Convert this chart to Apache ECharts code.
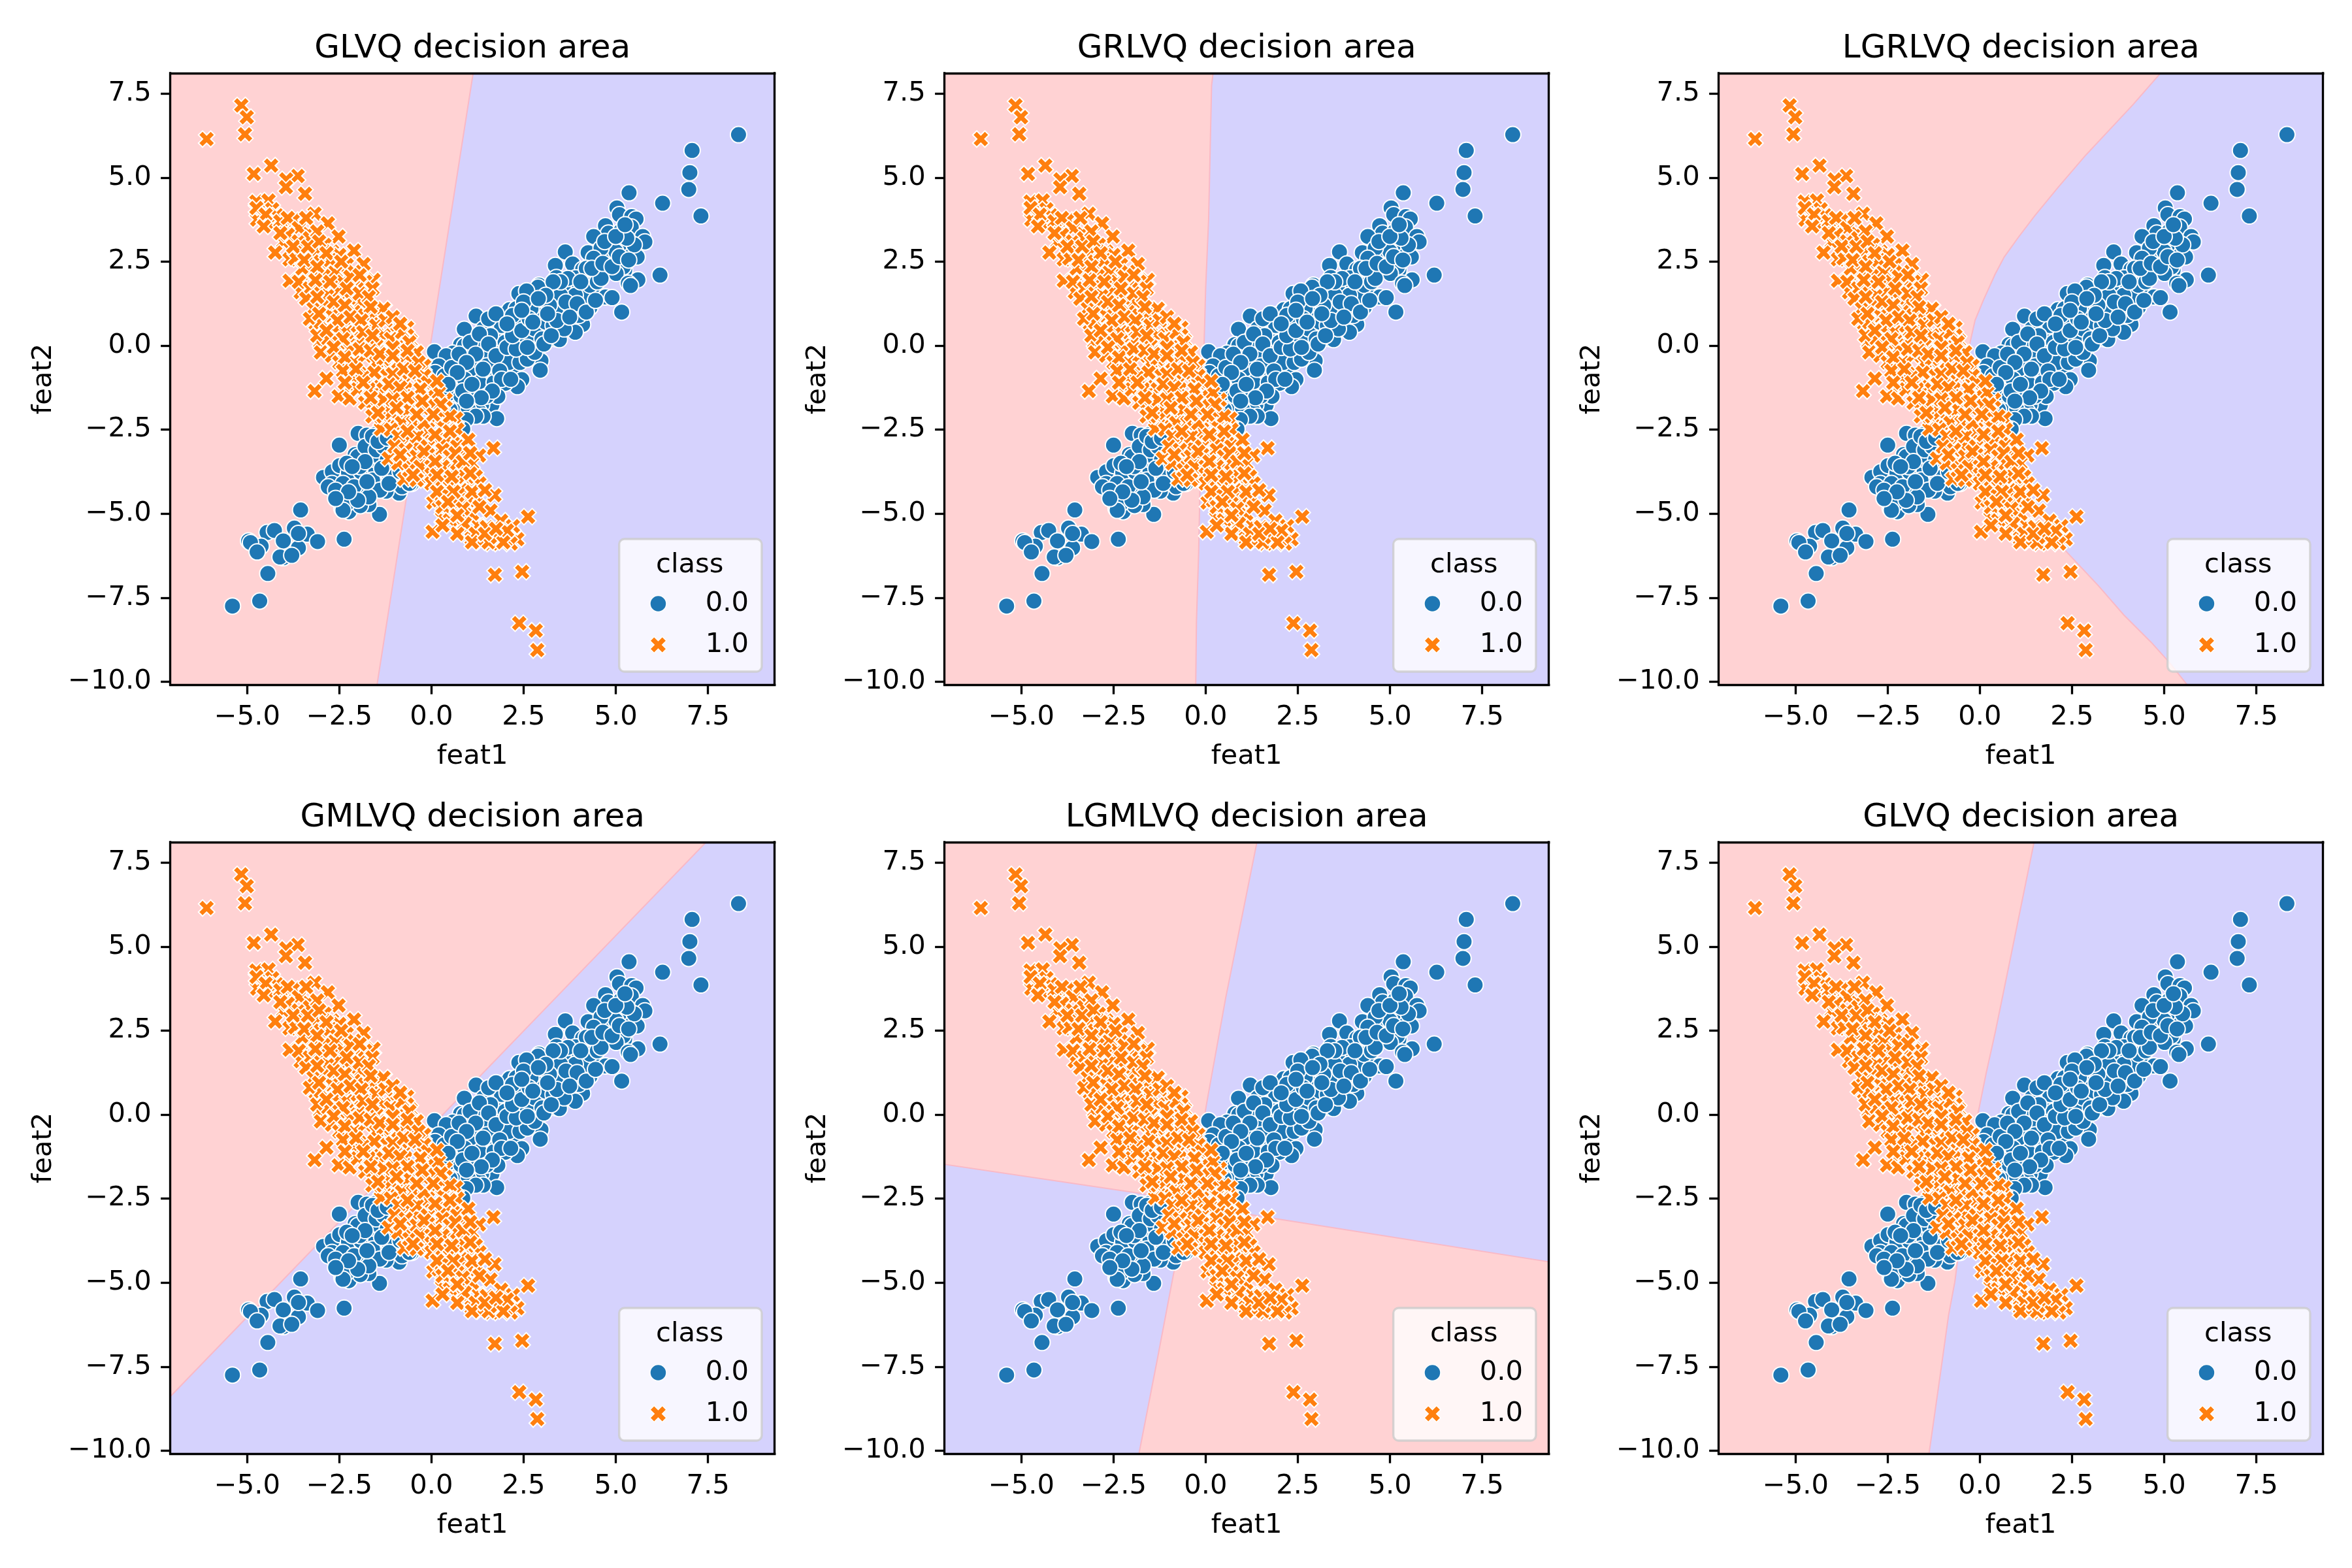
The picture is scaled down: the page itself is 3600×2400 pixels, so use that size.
<!DOCTYPE html>
<html>
<head>
<meta charset="utf-8">
<style>html,body{margin:0;padding:0;background:#fff}#c{width:3600px;height:2400px}</style>
<script src="https://cdn.jsdelivr.net/npm/echarts@6/dist/echarts.min.js"></script>
</head>
<body>
<div id="c"></div>
<script>
const panelTitles = ['GLVQ decision area','GRLVQ decision area','LGRLVQ decision area','GMLVQ decision area','LGMLVQ decision area','GLVQ decision area'];
const xTicks = [-5,-2.5,0,2.5,5,7.5];
const yTicks = [-10,-7.5,-5,-2.5,0,2.5,5,7.5];
const xMin = -7.085, xMax = 9.31, yMin = -10.09, yMax = 8.11;
const classNames = ['0.0','1.0'];

const class0 = [
[8.33,6.28],[7.07,5.81],[7.01,5.15],[6.98,4.65],[7.31,3.86],[6.27,4.24],[5.36,4.55],[5.03,4.10],[5.10,3.90],[5.43,3.84],[5.55,3.77],[4.72,3.57],[4.80,3.35],[5.42,3.53],[4.40,3.25],[5.14,3.41],[5.73,3.25],[5.79,3.09],[4.92,3.09],[5.40,3.06],[5.24,2.85],[5.58,2.64],[4.81,2.67],[4.50,2.59],[4.25,2.77],[3.63,2.79],[3.83,2.43],[3.36,2.39],[4.78,2.34],[4.63,2.15],[4.28,2.05],[4.10,2.27],[3.91,2.02],[5.24,2.24],[5.20,2.34],[3.39,2.03],[5.01,2.15],[5.60,1.96],[5.34,1.86],[5.40,1.79],[6.20,2.10],[2.92,1.80],[2.89,1.74],[2.37,1.55],[2.67,1.43],[2.58,1.63],[3.26,1.46],[3.72,1.67],[4.01,1.70],[4.48,1.54],[4.72,1.45],[4.90,1.43],[5.16,1.00],[3.72,1.26],[4.10,1.14],[4.30,1.14],[3.42,1.28],[2.95,1.08],[2.71,0.89],[3.24,0.95],[1.99,0.82],[1.92,0.92],[2.12,1.07],[2.30,1.10],[1.21,0.88],[0.89,0.49],[1.68,0.60],[1.41,0.50],[3.65,0.66],[3.85,0.69],[4.10,0.63],[3.90,0.40],[3.36,0.21],[3.47,0.18],[3.10,0.38],[1.98,0.44],[1.80,0.40],[2.57,0.43],[2.33,0.30],[2.70,0.63],[1.24,0.22],[0.79,0.03],[1.54,0.18],[2.21,0.11],[1.83,0.11],[3.18,0.50],[2.95,0.37],[2.77,-0.05],[2.51,-0.13],[0.08,-0.18],[2.97,-0.45],[2.95,-0.73],[2.35,-0.31],[1.95,-0.31],[1.12,-0.46],[0.58,-0.22],[1.59,-0.41],[1.71,-0.60],[2.18,-0.78],[0.38,-0.71],[0.83,-0.66],[2.45,-1.01],[1.56,-0.94],[1.29,-0.93],[0.93,-1.26],[1.54,-1.36],[2.33,-1.22],[2.00,-1.12],[1.77,-1.54],[1.20,-1.38],[0.65,-1.11],[0.30,-1.18],[0.76,-1.77],[1.64,-1.77],[1.36,-1.77],[1.77,-2.17],[1.29,-1.96],[1.80,-1.51],
[1.00,-0.20],[1.30,-0.10],[0.50,-0.40],[0.70,-0.50],[0.90,0.00],[1.00,-0.80],[1.40,-0.30],[1.80,-0.10],[2.00,0.10],[2.20,0.50],[2.40,0.70],[2.60,0.20],[2.80,0.50],[2.90,0.90],[3.00,0.20],[3.10,0.70],[3.30,0.60],[3.50,1.00],[3.60,0.50],[3.80,1.10],[4.00,0.90],[4.20,1.50],[4.30,1.80],[4.50,1.90],[4.60,2.00],[3.90,1.50],[3.50,1.50],[3.20,1.20],[2.70,1.10],[2.50,1.30],[2.20,0.90],[1.90,0.60],[1.60,0.30],[1.50,-0.60],[1.30,-1.10],[1.70,-1.10],[2.10,-0.50],[2.40,-0.50],[2.60,-0.40],[2.80,-0.20],[0.40,-0.30],[0.20,-0.60],[0.60,-0.90],[0.90,-1.00],[1.10,-1.50],[0.50,-1.40],[0.80,-1.50],[1.50,-1.50],[1.00,-1.90],[1.40,-2.10],[1.20,-2.10],[0.50,-1.90],[0.30,-1.50],[0.20,-1.00],[0.10,-0.80],[4.90,2.60],[5.10,3.00],[5.00,2.80],[5.50,3.00],[5.30,3.20],[4.60,2.90],[4.40,2.60],[4.20,2.30],[3.70,2.00],[3.50,1.90],[3.30,1.90],[3.10,1.50],[2.90,1.40],
[0.35,-0.90],[0.55,-0.65],[0.75,-0.25],[1.05,0.10],[1.30,0.35],[1.55,0.05],[1.20,-0.25],[0.95,-0.50],[0.70,-0.80],[0.45,-1.15],[0.85,-1.35],[1.10,-1.15],[1.40,-0.70],[1.75,-0.30],[2.05,-0.05],[2.30,-0.10],[2.60,-0.05],[2.20,0.30],[2.45,0.45],[2.65,0.80],[3.05,0.05],[3.25,0.30],[3.40,0.75],[3.15,0.95],[2.45,1.05],[2.75,0.70],[1.85,-0.75],[1.90,-1.00],[2.15,-1.00],[1.65,-1.35],[1.35,-1.55],[0.95,-1.65],[1.55,0.80],[1.75,0.95],[2.05,0.65],[3.65,1.30],[3.95,1.25],[4.20,1.00],[4.45,1.35],[3.75,0.85],[4.05,1.90],[4.35,2.30],[4.65,2.45],[4.90,2.35],[5.10,2.65],[5.35,2.55],[4.70,3.10],[5.00,3.25],[5.25,3.60],
[0.20,-2.00],[0.50,-2.30],[0.70,-2.70],[0.94,-2.20],[0.85,-2.48],[0.83,-2.87],[0.40,-2.80],
[-5.40,-7.75],[-4.66,-7.60],[-4.44,-6.78],[-3.55,-4.89],[-4.96,-5.81],[-4.46,-5.56],[-4.26,-5.50],[-3.72,-5.43],[-3.37,-5.61],[-3.09,-5.83],[-4.02,-5.81],[-3.61,-6.02],[-4.62,-5.97],[-4.91,-5.86],[-4.73,-6.14],[-4.02,-6.31],[-4.11,-6.29],[-3.79,-6.24],[-3.61,-5.59],[-2.37,-5.76],[-1.41,-5.02],[-2.24,-4.94],[-1.70,-4.73],[-2.43,-4.85],[-2.49,-4.59],[-1.93,-4.76],[-2.32,-4.47],[-1.93,-4.27],[-0.88,-4.39],[-1.23,-4.33],[-2.55,-4.03],[-2.93,-3.92],[-2.69,-3.75],[-2.49,-3.57],[-2.25,-3.78],[-1.91,-3.76],[-1.51,-3.76],[-1.54,-3.38],[-2.07,-3.24],[-2.50,-2.96],[-1.99,-2.61],[-1.75,-2.66],[-1.52,-2.64],[-1.66,-3.10],[-1.13,-3.88],[-1.07,-3.72],[-1.50,-4.13],[-0.54,-4.10],[-0.73,-3.97],[-1.80,-4.43],[-1.94,-3.60],[-1.38,-3.35],[-0.94,-3.60],
[-2.00,-3.30],[-1.80,-3.00],[-1.50,-3.10],[-2.30,-3.50],[-2.70,-4.10],[-2.40,-4.10],[-2.10,-4.20],[-1.60,-4.00],[-1.40,-4.30],[-1.70,-4.50],[-2.30,-4.70],[-2.00,-4.60],[-1.20,-3.40],[-1.00,-3.90],[-0.80,-4.20],[-0.60,-4.10],[-1.30,-3.00],[-1.00,-3.20],[-0.90,-2.90],[-1.60,-2.70],[-2.80,-4.20],[-2.60,-4.30],[-2.40,-4.90],
[-1.80,-3.45],[-2.15,-3.60],[-1.35,-3.65],[-1.75,-4.05],[-2.25,-4.35],[-1.15,-4.10],[-0.85,-3.75],[-1.45,-2.85],[-1.20,-2.75],[-2.60,-4.55]
];

const class1 = [
[-6.10,6.15],[-5.16,7.15],[-5.01,6.80],[-5.06,6.29],[-4.82,5.11],[-4.35,5.36],[-3.63,5.05],[-3.94,4.95],[-3.95,4.72],[-3.43,4.52],[-4.75,4.29],[-4.42,4.32],[-4.32,4.06],[-4.73,3.75],[-4.75,4.10],[-4.29,3.62],[-4.20,3.88],[-3.74,3.74],[-4.00,3.55],[-3.17,3.93],[-2.81,3.64],[-2.52,3.25],[-3.34,3.35],[-4.02,3.09],[-4.24,2.77],[-3.85,2.57],[-2.10,2.83],[-1.84,2.43],[-2.40,2.41],[-2.99,2.41],[-3.32,2.12],[-3.85,1.93],[-1.57,1.96],[-2.58,1.93],[-3.55,1.59],[-1.96,1.63],[-2.75,1.54],[-1.28,1.08],[-2.55,1.28],[-2.96,1.08],[-1.40,0.90],[-2.25,0.73],[-0.66,0.53],[-1.04,0.53],[-1.75,0.53],[-3.14,0.66],[-2.75,0.53],[-3.02,0.11],[-2.07,0.08],[-1.69,0.02],[-2.40,-0.18],[-0.93,-0.05],[-0.57,0.15],
[-0.51,-0.51],[-1.96,-0.83],[-1.10,-0.70],[-0.30,-0.89],[-2.19,-1.22],[-3.17,-1.35],[-2.85,-0.98],[-2.52,-1.51],[-2.22,-1.57],[-1.51,-1.38],[-0.74,-1.09],[0.02,-1.32],[0.38,-1.61],[-1.16,-1.73],[-0.39,-1.71],[-0.92,-2.16],[-0.42,-2.29],[0.11,-2.26],[0.67,-2.17],[-1.37,-2.48],[-0.21,-2.61],[-0.63,-2.74],[0.62,-2.70],[1.68,-3.05],[1.29,-3.27],[0.85,-3.18],[-0.39,-3.00],[0.08,-3.23],[-1.16,-3.36],[-0.63,-3.45],[-0.31,-3.45],[0.56,-3.68],[0.97,-3.65],[-0.74,-3.97],[-0.13,-3.94],[0.70,-4.00],[1.09,-4.13],[0.32,-4.33],[1.71,-4.45],[1.27,-4.52],[0.59,-4.52],[0.05,-4.67],[1.60,-4.91],[0.62,-4.94],[0.94,-5.07],[2.62,-5.09],[0.29,-5.13],[1.89,-5.21],[2.21,-5.37],[1.27,-5.35],[0.85,-5.40],[1.91,-5.62],[0.03,-5.54],[1.09,-5.74],[2.33,-5.76],[1.62,-5.89],[1.35,-5.85],[2.15,-5.89],[1.72,-6.82],[2.46,-6.73],[2.38,-8.26],[2.83,-8.48],[2.87,-9.06],
[-4.50,3.90],[-4.10,3.70],[-3.90,3.80],[-3.60,3.50],[-3.40,3.80],[-3.90,3.30],[-3.60,3.10],[-3.30,3.20],[-3.10,3.40],[-2.90,3.00],[-3.50,2.80],[-3.70,2.60],[-3.20,2.70],[-3.00,2.50],[-2.70,2.80],[-2.50,2.70],[-2.30,2.40],[-2.10,2.20],[-3.50,2.30],[-3.20,2.20],[-2.90,2.10],[-2.60,2.20],[-2.40,1.90],[-2.10,1.80],[-1.80,1.90],[-1.60,1.70],[-3.60,1.90],[-3.30,1.70],[-3.00,1.80],[-2.80,1.50],[-2.50,1.60],[-2.20,1.40],[-1.90,1.30],[-3.40,1.40],[-3.20,1.10],[-2.90,1.20],[-2.70,0.90],[-2.40,1.00],[-2.10,1.00],[-1.80,0.90],[-1.50,1.00],[-1.30,1.10],[-3.30,0.80],[-3.00,0.70],[-2.60,0.50],[-2.30,0.40],[-2.00,0.60],[-1.50,0.60],[-1.30,0.30],[-1.10,0.20],[-0.80,0.40],[-3.10,0.30],[-2.80,0.20],[-2.50,0.10],[-2.20,-0.10],[-1.90,0.20],[-1.50,0.00],[-1.20,-0.20],[-0.80,-0.10],[-0.60,0.10],[-0.40,-0.20],[-3.00,-0.20],[-2.70,-0.30],[-2.50,-0.50],[-2.10,-0.50],[-1.80,-0.30],[-1.50,-0.50],[-1.30,-0.40],[-0.90,-0.50],[-0.70,-0.30],[-0.20,-0.60],[-2.20,-0.90],[-1.80,-0.90],[-1.40,-1.00],[-1.20,-0.90],[-0.90,-1.00],[-0.60,-0.80],[-0.20,-0.90],[-0.10,-1.10],[-2.00,-1.30],[-1.70,-1.30],[-1.30,-1.30],[-1.00,-1.40],[-0.70,-1.30],[-0.50,-1.50],[-0.10,-1.50],[0.20,-1.40],[-1.80,-1.70],[-1.50,-1.80],[-1.30,-1.60],[-0.80,-1.70],[-0.60,-1.90],[-0.20,-1.90],[0.10,-1.80],[0.30,-2.00],[-1.60,-2.10],[-1.30,-2.10],[-1.10,-2.00],[-0.80,-2.30],[-0.50,-2.30],[-0.10,-2.50],[0.30,-2.40],[0.50,-2.10],[-1.10,-2.50],[-0.90,-2.70],[-0.40,-2.70],[-0.20,-2.30],[0.20,-2.80],[0.40,-2.80],[0.70,-2.50],[-1.00,-3.00],[-0.70,-3.10],[-0.40,-3.30],[-0.10,-3.00],[0.30,-3.10],[0.50,-3.30],[0.70,-3.00],[1.00,-2.80],[-0.90,-3.50],[-0.60,-3.70],[-0.30,-3.60],[0.00,-3.60],[0.30,-3.60],[0.70,-3.50],[1.10,-3.50],[-0.40,-4.00],[0.00,-4.10],[0.30,-4.00],[0.50,-4.20],[0.90,-3.90],[1.20,-3.90],[0.20,-4.60],[0.40,-4.40],[0.80,-4.30],[1.00,-4.60],[1.30,-4.10],[0.30,-4.80],[0.70,-4.70],[1.10,-5.00],[0.50,-5.20],[0.90,-5.30],[1.20,-5.60],[0.70,-5.60],[1.50,-5.40],[1.10,-5.85],[1.55,-5.85],[2.00,-5.80],[1.80,-5.70],[2.05,-5.50],[1.95,-5.85],
[-4.55,3.55],[-4.10,3.35],[-3.75,2.95],[-3.35,2.95],[-3.05,3.10],[-2.75,2.55],[-3.45,2.55],[-2.85,2.75],[-3.10,2.35],[-2.45,2.50],[-2.20,2.05],[-1.95,2.10],[-2.75,1.90],[-3.15,1.95],[-2.30,1.70],[-1.95,1.55],[-1.70,1.45],[-3.10,1.45],[-2.65,1.30],[-2.35,1.20],[-1.65,1.15],[-3.05,0.95],[-2.55,0.75],[-2.20,0.85],[-1.90,0.75],[-1.25,0.75],[-1.05,0.85],[-0.85,0.65],[-2.85,0.45],[-2.40,0.20],[-1.85,0.40],[-1.60,0.30],[-1.05,-0.05],[-0.65,-0.15],[-2.65,-0.05],[-2.35,-0.35],[-1.95,-0.10],[-1.65,-0.15],[-1.40,-0.25],[-1.05,-0.30],[-0.35,-0.50],[-2.40,-0.75],[-2.05,-0.70],[-1.55,-0.80],[-1.05,-0.85],[-0.75,-0.70],[-0.45,-0.75],[-2.35,-1.10],[-1.85,-1.10],[-1.15,-1.15],[-0.85,-1.25],[-0.30,-1.30],[0.15,-1.05],[-1.65,-1.55],[-1.05,-1.60],[-0.65,-1.55],[-0.25,-1.65],[0.25,-1.75],[-1.45,-2.00],[-0.95,-1.85],[-0.40,-2.05],[0.05,-2.05],[-0.65,-2.55],[0.10,-2.65],[0.50,-2.55],[-0.85,-3.25],[-0.20,-3.15],[0.10,-3.45],[0.65,-3.20],[0.85,-3.45],[1.05,-3.20],[-0.50,-3.85],[0.15,-3.85],[0.55,-3.90],[1.05,-3.80],[0.15,-4.35],[0.60,-4.35],[1.10,-4.35],[1.45,-4.30],[0.45,-4.65],[0.85,-4.85],[1.30,-4.80],[0.30,-5.35],[0.70,-5.05],[1.45,-5.60],[1.75,-5.45]
];

const regionsGLVQ = [[[xMin,yMax],[1.13,yMax],[-1.477,yMin],[xMin,yMin]]];
const regionsGRLVQ = [[[xMin,yMax],[0.20,yMax],[0.16,7.74],[0.12,5.76],[0.08,3.77],[0,1.72],[-0.08,-1.38],[-0.16,-4.48],[-0.19,-6.15],[-0.25,-8.2],[-0.27,yMin],[xMin,yMin]]];
const regionsLGRLVQ = [[[xMin,yMax],[4.90,yMax],[4.15,7.17],[3.57,6.49],[2.88,5.68],[2.12,4.71],[1.49,3.87],[1.04,3.22],[0.66,2.64],[0.41,2.12],[0.09,1.34],[-0.13,0.76],[-0.29,-0.02],[-0.25,-0.8],[0.0,-1.6],[0.5,-2.6],[1.0,-3.6],[1.5,-4.7],[2.21,-5.97],[3.22,-7.15],[3.90,-8.01],[4.64,-8.82],[5.15,-9.44],[5.62,yMin],[xMin,yMin]]];
const regionsGMLVQ = [[[xMin,yMax],[7.45,yMax],[xMin,-8.39]]];
const regionsLGMLVQ = [
  [[xMin,yMax],[1.39,yMax],[0.54,3.46],[0.03,0.36],[-0.42,-2.6],[-1.78,-2.34],[xMin,-1.48]],
  [[-0.42,-2.6],[0.94,-2.93],[xMax,-4.38],[xMax,yMin],[-1.81,yMin],[-1.32,-7.33],[-0.87,-4.73]]
];
const regionsGLVQ2 = [[[xMin,yMax],[1.47,yMax],[1.02,5.69],[0.79,4.45],[0.42,2.47],[0.17,1.23],[-0.15,-0.5],[-0.68,-4.98],[-0.85,-5.97],[-1.07,-7.7],[-1.38,yMin],[xMin,yMin]]];
const panelRegions = [regionsGLVQ,regionsGRLVQ,regionsLGRLVQ,regionsGMLVQ,regionsLGMLVQ,regionsGLVQ2];

const FONT = 'DejaVu Sans', TXT = 41.67;
const RED = '#FFD2D3', BLUE = '#D5D2FD', EDGE = '#F9B9C6';
const C0 = '#1f77b4', C1 = '#ff7f0e';
const XPATH = 'path://M-1 -2L0 -1L1 -2L2 -1L1 0L2 1L1 2L0 1L-1 2L-2 1L-1 0L-2 -1Z';
const lefts = [260.7,1445.7,2630.7], tops = [112,1289], W = 925, H = 936;
const fmt = v => { const s = Math.abs(v).toFixed(1); return (v < 0 ? '\u2212' : '') + s; };

const option = {animation:false,backgroundColor:'#fff',grid:[],xAxis:[],yAxis:[],series:[],title:[],legend:[]};
panelTitles.forEach((t,i) => {
  const L = lefts[i%3], T = tops[Math.floor(i/3)], g = option.grid.length;
  option.grid.push({left:L,top:T,width:W,height:H,containLabel:false});
  const line = {show:true,onZero:false,lineStyle:{color:'#000',width:3.33,cap:'square'}};
  const base = {type:'value',gridIndex:g,z:10,splitLine:{show:false}};
  const nameStyle = {fontSize:TXT,fontFamily:FONT,color:'#000'};
  const lab = (v,pad) => ({show:true,customValues:v,formatter:fmt,fontSize:TXT,fontFamily:FONT,color:'#000',margin:29,padding:pad});
  const tick = v => ({show:true,customValues:v,length:14.6,lineStyle:{color:'#000',width:3.33}});
  option.xAxis.push(Object.assign({},base,{min:xMin,max:xMax,position:'bottom',axisLine:line,axisTick:tick(xTicks),axisLabel:lab(xTicks,0),name:'feat1',nameLocation:'middle',nameGap:89,nameTextStyle:nameStyle}));
  option.xAxis.push(Object.assign({},base,{min:xMin,max:xMax,position:'top',axisLine:line,axisTick:{show:false},axisLabel:{show:false}}));
  option.yAxis.push(Object.assign({},base,{min:yMin,max:yMax,position:'left',axisLine:line,axisTick:tick(yTicks),axisLabel:lab(yTicks,[12,0,0,0]),name:'feat2',nameLocation:'middle',nameGap:173,nameTextStyle:nameStyle}));
  option.yAxis.push(Object.assign({},base,{min:yMin,max:yMax,position:'right',axisLine:line,axisTick:{show:false},axisLabel:{show:false}}));
  const ax = {xAxisIndex:g*2,yAxisIndex:g*2};
  option.series.push(Object.assign({},ax,{type:'custom',coordinateSystem:'cartesian2d',silent:true,z:1,clip:true,data:[[0,0]],
    renderItem:(p,api) => {
      const poly = (pts,fill,stroke) => ({type:'polygon',shape:{points:pts.map(q=>api.coord(q))},style:{fill,stroke,lineWidth:stroke?2:0}});
      const bg = poly([[xMin,yMax],[xMax,yMax],[xMax,yMin],[xMin,yMin]],BLUE,null);
      return {type:'group',children:[bg].concat(panelRegions[i].map(r=>poly(r,RED,EDGE)))};
    }}));
  option.series.push(Object.assign({},ax,{type:'scatter',name:classNames[0],data:class0,symbol:'circle',symbolSize:25,itemStyle:{color:C0,borderColor:'#fff',borderWidth:2,opacity:1},z:3}));
  option.series.push(Object.assign({},ax,{type:'scatter',name:classNames[1],data:class1,symbol:XPATH,symbolSize:25,itemStyle:{color:C1,borderColor:'#fff',borderWidth:2,opacity:1},z:4}));
  option.title.push({text:t,left:L+W/2,top:T-62,padding:0,textAlign:'center',textStyle:{fontSize:50,fontWeight:'normal',fontFamily:FONT,color:'#000'}});
  option.title.push({text:'class',left:L+795,top:T+732,padding:0,textAlign:'center',textStyle:{fontSize:TXT,fontWeight:'normal',fontFamily:FONT,color:'#000'},z:8});
  option.legend.push({orient:'vertical',left:L+687,top:T+713,selectedMode:false,
    padding:[78,20,20,46.5],itemWidth:25,itemHeight:25,itemGap:21,
    backgroundColor:'rgba(255,255,255,0.8)',borderColor:'rgba(204,204,204,0.8)',borderWidth:3.33,borderRadius:8,z:7,
    data:[{name:classNames[0],icon:'circle'},{name:classNames[1],icon:XPATH}],
    itemStyle:{borderColor:'#fff',borderWidth:1.5},
    formatter:'{v|{name}}',
    textStyle:{rich:{v:{width:121,align:'right',fontSize:TXT,lineHeight:42,fontFamily:FONT,color:'#000'}}}});
});
const chart = echarts.init(document.getElementById('c'),null,{renderer:'canvas',width:3600,height:2400});
chart.setOption(option);
</script>
</body>
</html>
